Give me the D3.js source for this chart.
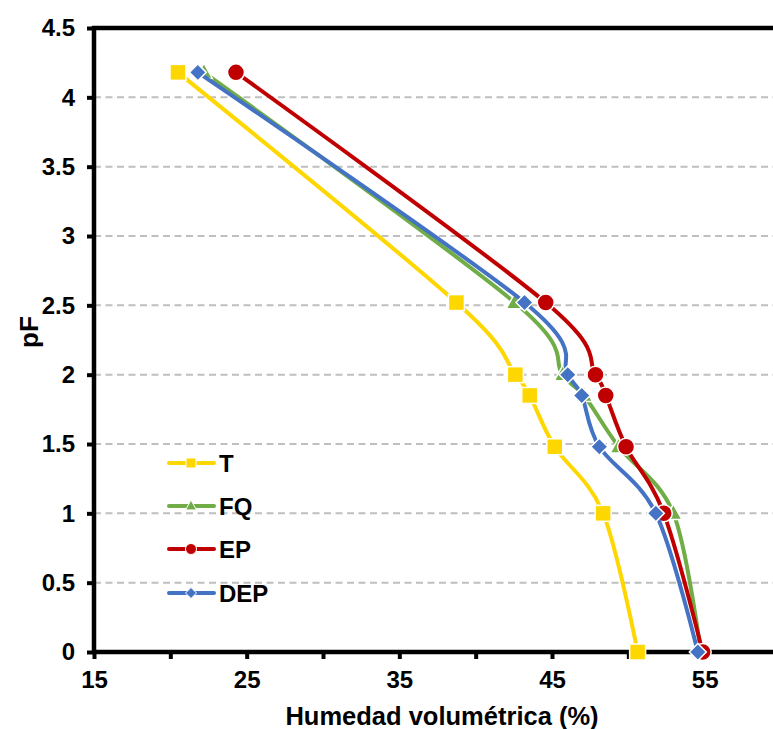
<!DOCTYPE html>
<html><head><meta charset="utf-8">
<script src="https://cdn.jsdelivr.net/npm/d3@7"></script>
<style>body{margin:0;background:#fff}svg{display:block}</style>
</head><body>
<svg id="c" width="773" height="729"></svg>
<script>
const pF = [4.18, 2.52, 2.0, 1.85, 1.48, 1.0, 0];
const T   = [20.5, 38.74, 42.6, 43.54, 45.18, 48.35, 50.61];
const FQ  = [22.2, 42.56, 45.7, 47.1, 49.37, 52.95, 54.74];
const EP  = [24.3, 44.59, 47.85, 48.52, 49.85, 52.32, 54.87];
const DEP = [21.8, 43.2, 46.03, 46.95, 48.1, 51.8, 54.55];
const seriesNames = ["T", "FQ", "EP", "DEP"];
const xTicks = [15, 20, 25, 30, 35, 40, 45, 50, 55, 60];
const xLabels = [15, 25, 35, 45, 55];
const yTicks = [0, 0.5, 1, 1.5, 2, 2.5, 3, 3.5, 4, 4.5];

const series = [
  {name: "T", values: T, color: "#FFD700", marker: "square"},
  {name: "FQ", values: FQ, color: "#70AD47", marker: "triangle"},
  {name: "EP", values: EP, color: "#C00000", marker: "circle"},
  {name: "DEP", values: DEP, color: "#4472C4", marker: "diamond"}
];

const svg = d3.select("#c");
const L = 94, R = 781, TOP = 28, B = 652;
const x = d3.scaleLinear().domain([15, 60]).range([L, R]);
const y = d3.scaleLinear().domain([0, 4.5]).range([B, TOP]);
const font = "'Liberation Sans', Arial, sans-serif";

// gridlines
svg.append("g").selectAll("line").data(yTicks.filter(v => v > 0 && v < 4.5)).join("line")
  .attr("x1", L).attr("x2", 773).attr("y1", d => y(d)).attr("y2", d => y(d))
  .attr("stroke", "#BFBFBF").attr("stroke-width", 2).attr("stroke-dasharray", "7,4.5");

// Axes
const yAxis = d3.axisLeft(y).tickValues(yTicks).tickSize(7).tickFormat(d => d3.format("")(d));
const gy = svg.append("g").attr("transform", `translate(${L},0)`).call(yAxis);
gy.select(".domain").remove();
gy.selectAll(".tick line").attr("stroke", "#000").attr("stroke-width", 4);
gy.selectAll(".tick text").attr("x", -19).attr("font-family", font).attr("font-size", 24).attr("font-weight", "bold").attr("fill", "#000");

const xAxis = d3.axisBottom(x).tickValues(xTicks).tickSize(7).tickFormat(d => xLabels.includes(d) ? d : "");
const gx = svg.append("g").attr("transform", `translate(0,${B})`).call(xAxis);
gx.select(".domain").remove();
gx.selectAll(".tick line").attr("stroke", "#000").attr("stroke-width", 4);
gx.selectAll(".tick text").attr("y", 19).attr("font-family", font).attr("font-size", 24).attr("font-weight", "bold").attr("fill", "#000");

// axis lines
svg.append("line").attr("x1", L).attr("x2", L).attr("y1", TOP - 2).attr("y2", B + 2).attr("stroke", "#000").attr("stroke-width", 4.5);
svg.append("line").attr("x1", L - 2).attr("x2", 773).attr("y1", B).attr("y2", B).attr("stroke", "#000").attr("stroke-width", 4.5);
svg.append("line").attr("x1", L - 2).attr("x2", 773).attr("y1", TOP).attr("y2", TOP).attr("stroke", "#000").attr("stroke-width", 4.5);

// titles
svg.append("text").attr("x", 442).attr("y", 725).attr("text-anchor", "middle")
  .attr("font-family", font).attr("font-size", 25.5).attr("font-weight", "bold").text("Humedad volumétrica (%)");
svg.append("text").attr("transform", "translate(38,332) rotate(-90)").attr("text-anchor", "middle")
  .attr("font-family", font).attr("font-size", 26).attr("font-weight", "bold").text("pF");

function drawMarker(g, type, cx, cy, size, color, sw) {
  const s = size / 2;
  if (type === "square") {
    g.append("rect").attr("x", cx - s).attr("y", cy - s).attr("width", size).attr("height", size)
      .attr("fill", color).attr("stroke", "#fff").attr("stroke-width", sw);
  } else if (type === "circle") {
    g.append("circle").attr("cx", cx).attr("cy", cy).attr("r", s)
      .attr("fill", color).attr("stroke", "#fff").attr("stroke-width", sw);
  } else if (type === "diamond") {
    g.append("path").attr("d", `M${cx},${cy - s}L${cx + s},${cy}L${cx},${cy + s}L${cx - s},${cy}Z`)
      .attr("fill", color).attr("stroke", "#fff").attr("stroke-width", sw);
  } else {
    const h = size * 0.9;
    g.append("path").attr("d", `M${cx},${cy - h * 0.6}L${cx + s},${cy + h * 0.4}L${cx - s},${cy + h * 0.4}Z`)
      .attr("fill", color).attr("stroke", "#fff").attr("stroke-width", sw);
  }
}

const line = d3.line().x(d => x(d[0])).y(d => y(d[1])).curve(d3.curveCardinal.tension(0));
const sizes = {square: 16, circle: 17, diamond: 17, triangle: 17};
series.forEach(s => {
  const pts = s.values.map((v, i) => [v, pF[i]]);
  const g = svg.append("g");
  g.append("path").attr("d", line(pts)).attr("fill", "none").attr("stroke", s.color)
    .attr("stroke-width", 4).attr("stroke-linejoin", "round");
  pts.forEach(p => drawMarker(g, s.marker, x(p[0]), y(p[1]), sizes[s.marker], s.color, 1.5));
});

// legend
const legY = [463, 506, 549, 593];
series.forEach((s, i) => {
  const g = svg.append("g");
  g.append("line").attr("x1", 169).attr("x2", 214).attr("y1", legY[i]).attr("y2", legY[i])
    .attr("stroke", s.color).attr("stroke-width", 4).attr("stroke-linecap", "round");
  drawMarker(g, s.marker, 191, legY[i], s.marker === "square" ? 10 : 11, s.color, 1);
  g.append("text").attr("x", 219).attr("y", legY[i] + 9).attr("font-family", font)
    .attr("font-size", 24).attr("font-weight", "bold").text(s.name);
});
</script>
</body></html>
